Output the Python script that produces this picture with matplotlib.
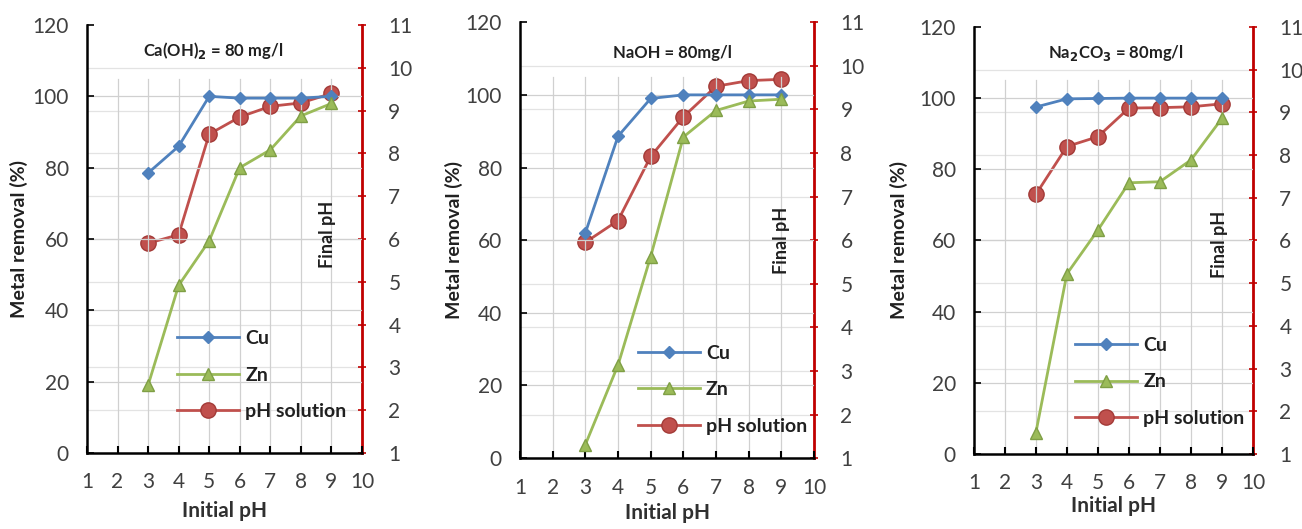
import matplotlib
matplotlib.use("Agg")
import matplotlib.pyplot as plt
from matplotlib.lines import Line2D

plt.rcParams['font.family'] = ['Lato', 'DejaVu Sans']

initial_ph = [3, 4, 5, 6, 7, 8, 9]

titles = [r"Ca(OH)$_\mathbf{2}$ = 80 mg/l", "NaOH = 80mg/l", r"Na$_\mathbf{2}$CO$_\mathbf{3}$ = 80mg/l"]

cu_caoh2 = [78.5, 86, 100, 99.5, 99.5, 99.5, 100]
zn_caoh2 = [19, 47, 59.5, 80, 85, 94.5, 98]
ph_caoh2 = [5.9, 6.1, 8.45, 8.85, 9.1, 9.18, 9.4]

cu_naoh = [62, 88.6, 99, 100, 100, 100, 100]
zn_naoh = [3.7, 25.6, 55.5, 88.4, 95.7, 98.3, 98.8]
ph_naoh = [5.95, 6.45, 7.92, 8.83, 9.53, 9.66, 9.69]

cu_na2co3 = [97.5, 99.8, 99.9, 100, 100, 100, 100]
zn_na2co3 = [6, 50.6, 62.9, 76.2, 76.5, 82.6, 94.3]
ph_na2co3 = [7.08, 8.2, 8.43, 9.1, 9.11, 9.13, 9.2]

cu_sets = [cu_caoh2, cu_naoh, cu_na2co3]
zn_sets = [zn_caoh2, zn_naoh, zn_na2co3]
ph_sets = [ph_caoh2, ph_naoh, ph_na2co3]

x_ticks = list(range(1, 11))
left_ticks = [0, 20, 40, 60, 80, 100, 120]
right_ticks = list(range(1, 12))

# layout (figure fractions)
boxes = [(0.0668, 0.1437, 0.2112, 0.809),
         (0.3994, 0.134, 0.2258, 0.824),
         (0.748, 0.142, 0.2143, 0.807)]
title_pos = [(0.46, 0.94), (0.52, 0.93), (0.51, 0.94)]
final_pos = [(0.876, 0.51), (0.89, 0.50), (0.88, 0.49)]
leg_anchor = [(0.30, 0.305), (0.375, 0.278), (0.335, 0.292)]
ylabel_pad = [3, 2, 8]
xlabel_pad = [6, 4, 2]

BLUE = '#4F81BD'
GREEN = '#9BBB59'
RED = '#C0504D'
SPINE_RED = '#C00000'
GRID = '#D0D0D0'
TICKC = '#404040'

fig = plt.figure(figsize=(13.02, 5.29), dpi=100)

for i in range(3):
    ax = fig.add_axes(boxes[i])
    ax2 = ax.twinx()
    ax.set_zorder(ax2.get_zorder() + 1)
    ax.patch.set_visible(False)

    ax.set_xlim(1, 10)
    ax.set_ylim(0, 120)
    ax2.set_ylim(1, 11)

    # grid
    for gx in range(2, 10):
        ax.plot([gx, gx], [0, 105], color=GRID, lw=0.9, zorder=0)
    for gy in [20, 40, 60, 80, 100]:
        ax.axhline(gy, color=GRID, lw=0.9, zorder=0)
    for gp in range(2, 11):
        ax2.axhline(gp, color='#E3E3E3', lw=0.9, zorder=0)

    ax.plot(initial_ph, cu_sets[i], color=BLUE, lw=2, marker='D', ms=6,
            mfc=BLUE, mec=BLUE, zorder=3)
    ax.plot(initial_ph, zn_sets[i], color=GREEN, lw=2, marker='^', ms=9,
            mfc=GREEN, mec='#7F9F45', zorder=3)
    ax2.plot(initial_ph, ph_sets[i], color=RED, lw=2, marker='o', ms=11,
             mfc=RED, mec='#A33A37', zorder=3)

    ax.set_xticks(x_ticks)
    ax.set_yticks(left_ticks)
    ax2.set_yticks(right_ticks)

    ax.tick_params(axis='x', direction='in', length=5, width=1.5, pad=14,
                   labelsize=15, colors='black', labelcolor=TICKC)
    ax.tick_params(axis='y', direction='in', length=5, width=1.2, pad=13,
                   labelsize=15, labelcolor=TICKC)
    ax2.tick_params(axis='y', direction='inout', length=6, width=1.2, pad=16,
                    labelsize=15, color=SPINE_RED, labelcolor=TICKC)

    for a in (ax, ax2):
        a.spines['top'].set_visible(False)
    ax.spines['left'].set_linewidth(1.8)
    ax.spines['bottom'].set_linewidth(1.8)
    ax.spines['right'].set_visible(False)
    ax2.spines['left'].set_visible(False)
    ax2.spines['bottom'].set_visible(False)
    ax2.spines['right'].set_color(SPINE_RED)
    ax2.spines['right'].set_linewidth(2)

    ax.set_xlabel('Initial pH', fontsize=15, fontweight='bold', color='#303030',
                  labelpad=xlabel_pad[i])
    ax.set_ylabel('Metal removal (%)', fontsize=14, fontweight='bold', color='#202020',
                  labelpad=ylabel_pad[i])

    ax.text(title_pos[i][0], title_pos[i][1], titles[i], transform=ax.transAxes,
            ha='center', va='center', fontsize=12, fontweight='bold', color='#202020')
    ax.text(final_pos[i][0], final_pos[i][1], 'Final pH', transform=ax.transAxes,
            ha='center', va='center', rotation=90, fontsize=13, fontweight='bold', color='#202020')

    handles = [Line2D([], [], color=BLUE, lw=2, marker='D', ms=6),
               Line2D([], [], color=GREEN, lw=2, marker='^', ms=9, mec='#7F9F45'),
               Line2D([], [], color=RED, lw=2, marker='o', ms=11, mec='#A33A37')]
    leg = ax.legend(handles, ['Cu', 'Zn', 'pH solution'], loc='upper left',
                    bbox_to_anchor=leg_anchor[i], frameon=False, handlelength=3.2,
                    labelspacing=1.0, handletextpad=0.3, borderaxespad=0,
                    prop={'weight': 'bold', 'size': 14})
    for t in leg.get_texts():
        t.set_color('#202020')

fig.savefig('out.png', dpi=100)
